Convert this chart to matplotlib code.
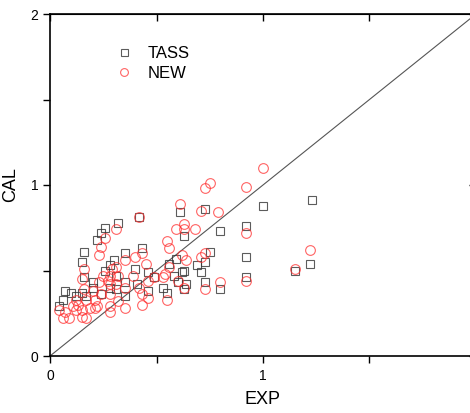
import matplotlib
matplotlib.use("Agg")
import matplotlib.pyplot as plt
from matplotlib.ticker import MultipleLocator

plt.rcParams['font.family'] = ['Liberation Sans', 'DejaVu Sans']

# TASS model points (squares)
tass_x = [0.61, 0.73, 1.00, 1.23, 0.63, 0.80, 0.92, 0.75, 0.73, 0.59, 0.92, 0.69,
          0.63, 0.62, 0.71, 0.56, 0.58, 0.92, 1.22, 1.15, 0.53, 0.55, 0.60, 0.64,
          0.63, 0.73, 0.80, 0.42, 0.32, 0.26, 0.24, 0.22, 0.16, 0.15, 0.35, 0.30,
          0.28, 0.26, 0.43, 0.40, 0.31, 0.20, 0.16, 0.35, 0.41, 0.46, 0.49, 0.07,
          0.10, 0.12, 0.06, 0.04, 0.31, 0.35, 0.28, 0.20, 0.24, 0.46, 0.15, 0.17]
tass_y = [0.84, 0.86, 0.88, 0.91, 0.70, 0.73, 0.76, 0.61, 0.55, 0.57, 0.58, 0.53,
          0.50, 0.49, 0.49, 0.54, 0.47, 0.46, 0.54, 0.50, 0.40, 0.37, 0.43, 0.42,
          0.39, 0.43, 0.39, 0.81, 0.78, 0.75, 0.72, 0.68, 0.61, 0.55, 0.60, 0.56,
          0.53, 0.50, 0.63, 0.51, 0.47, 0.43, 0.46, 0.43, 0.42, 0.49, 0.46, 0.38,
          0.37, 0.35, 0.33, 0.29, 0.39, 0.35, 0.40, 0.40, 0.36, 0.38, 0.37, 0.35]

# NEW model points (circles)
new_x = [1.00, 0.75, 0.73, 0.92, 0.61, 0.71, 0.79, 0.63, 0.59, 0.63, 0.68, 0.92,
         0.55, 0.56, 0.62, 0.64, 0.71, 0.73, 1.22, 1.15, 0.56, 0.54, 0.53, 0.60,
         0.63, 0.73, 0.80, 0.92, 0.55, 0.42, 0.31, 0.26, 0.24, 0.23, 0.43, 0.40,
         0.35, 0.45, 0.31, 0.29, 0.16, 0.15, 0.25, 0.28, 0.32, 0.27, 0.39, 0.49,
         0.16, 0.20, 0.23, 0.28, 0.31, 0.35, 0.42, 0.46, 0.43, 0.46, 0.43, 0.35,
         0.32, 0.28, 0.28, 0.24, 0.21, 0.17, 0.13, 0.19, 0.21, 0.22, 0.15, 0.12,
         0.04, 0.07, 0.15, 0.09, 0.06, 0.17, 0.28, 0.11, 0.12]
new_y = [1.10, 1.01, 0.98, 0.99, 0.89, 0.85, 0.84, 0.77, 0.74, 0.74, 0.74, 0.72,
         0.67, 0.63, 0.59, 0.56, 0.58, 0.60, 0.62, 0.51, 0.52, 0.48, 0.46, 0.44,
         0.40, 0.39, 0.43, 0.44, 0.33, 0.81, 0.74, 0.69, 0.64, 0.59, 0.60, 0.58,
         0.56, 0.54, 0.52, 0.51, 0.51, 0.45, 0.47, 0.47, 0.47, 0.44, 0.47, 0.46,
         0.39, 0.38, 0.43, 0.42, 0.42, 0.40, 0.40, 0.44, 0.36, 0.34, 0.30, 0.28,
         0.32, 0.29, 0.36, 0.36, 0.33, 0.33, 0.30, 0.28, 0.28, 0.29, 0.27, 0.27,
         0.27, 0.26, 0.23, 0.22, 0.22, 0.22, 0.26, 0.29, 0.33]

fig = plt.figure(figsize=(4.70, 4.13), dpi=100)
ax = fig.add_axes([50 / 470, 57 / 413, 426 / 470, 342 / 413])

ax.plot([0, 2], [0, 2], color='#555555', lw=0.8, zorder=1)
ax.plot(tass_x, tass_y, ls='none', marker='s', ms=6.3, mfc='none',
        mec='#333333', mew=0.8, alpha=0.8, label='TASS', zorder=2)
ax.plot(new_x, new_y, ls='none', marker='o', ms=7, mfc='none',
        mec='#ff3030', mew=0.8, alpha=0.75, label='NEW', zorder=3)

ax.set_xlim(0, 2)
ax.set_ylim(0, 2)
# the "2" on x sits past the picture edge in the original, so no label there
ax.set_xticks([0, 1, 2], ['0', '1', ''])
ax.set_yticks([0, 1, 2])
ax.xaxis.set_minor_locator(MultipleLocator(0.5))
ax.yaxis.set_minor_locator(MultipleLocator(0.5))
ax.tick_params(which='both', direction='out', length=5, width=1, labelsize=10,
               top=False, right=False)
ax.tick_params(axis='x', pad=4)
for sp in ax.spines.values():
    sp.set_linewidth(1.2)

# inward ticks on top and right like the original
ax2 = ax.secondary_xaxis('top')
ax2.xaxis.set_major_locator(MultipleLocator(0.5))
ax2.tick_params(direction='in', length=5, width=1, labeltop=False)
ax3 = ax.secondary_yaxis('right')
ax3.yaxis.set_major_locator(MultipleLocator(1))
ax3.tick_params(direction='in', length=5, width=1, labelright=False)

ax.set_xlabel('EXP', fontsize=13, labelpad=6)
ax.set_ylabel('CAL', fontsize=13, labelpad=8)

ax.legend(loc='upper left', bbox_to_anchor=(0.1, 0.95), frameon=False,
          fontsize=12, handletextpad=0.4, labelspacing=0.3, markerscale=0.8)

fig.savefig('out.png', dpi=100)
